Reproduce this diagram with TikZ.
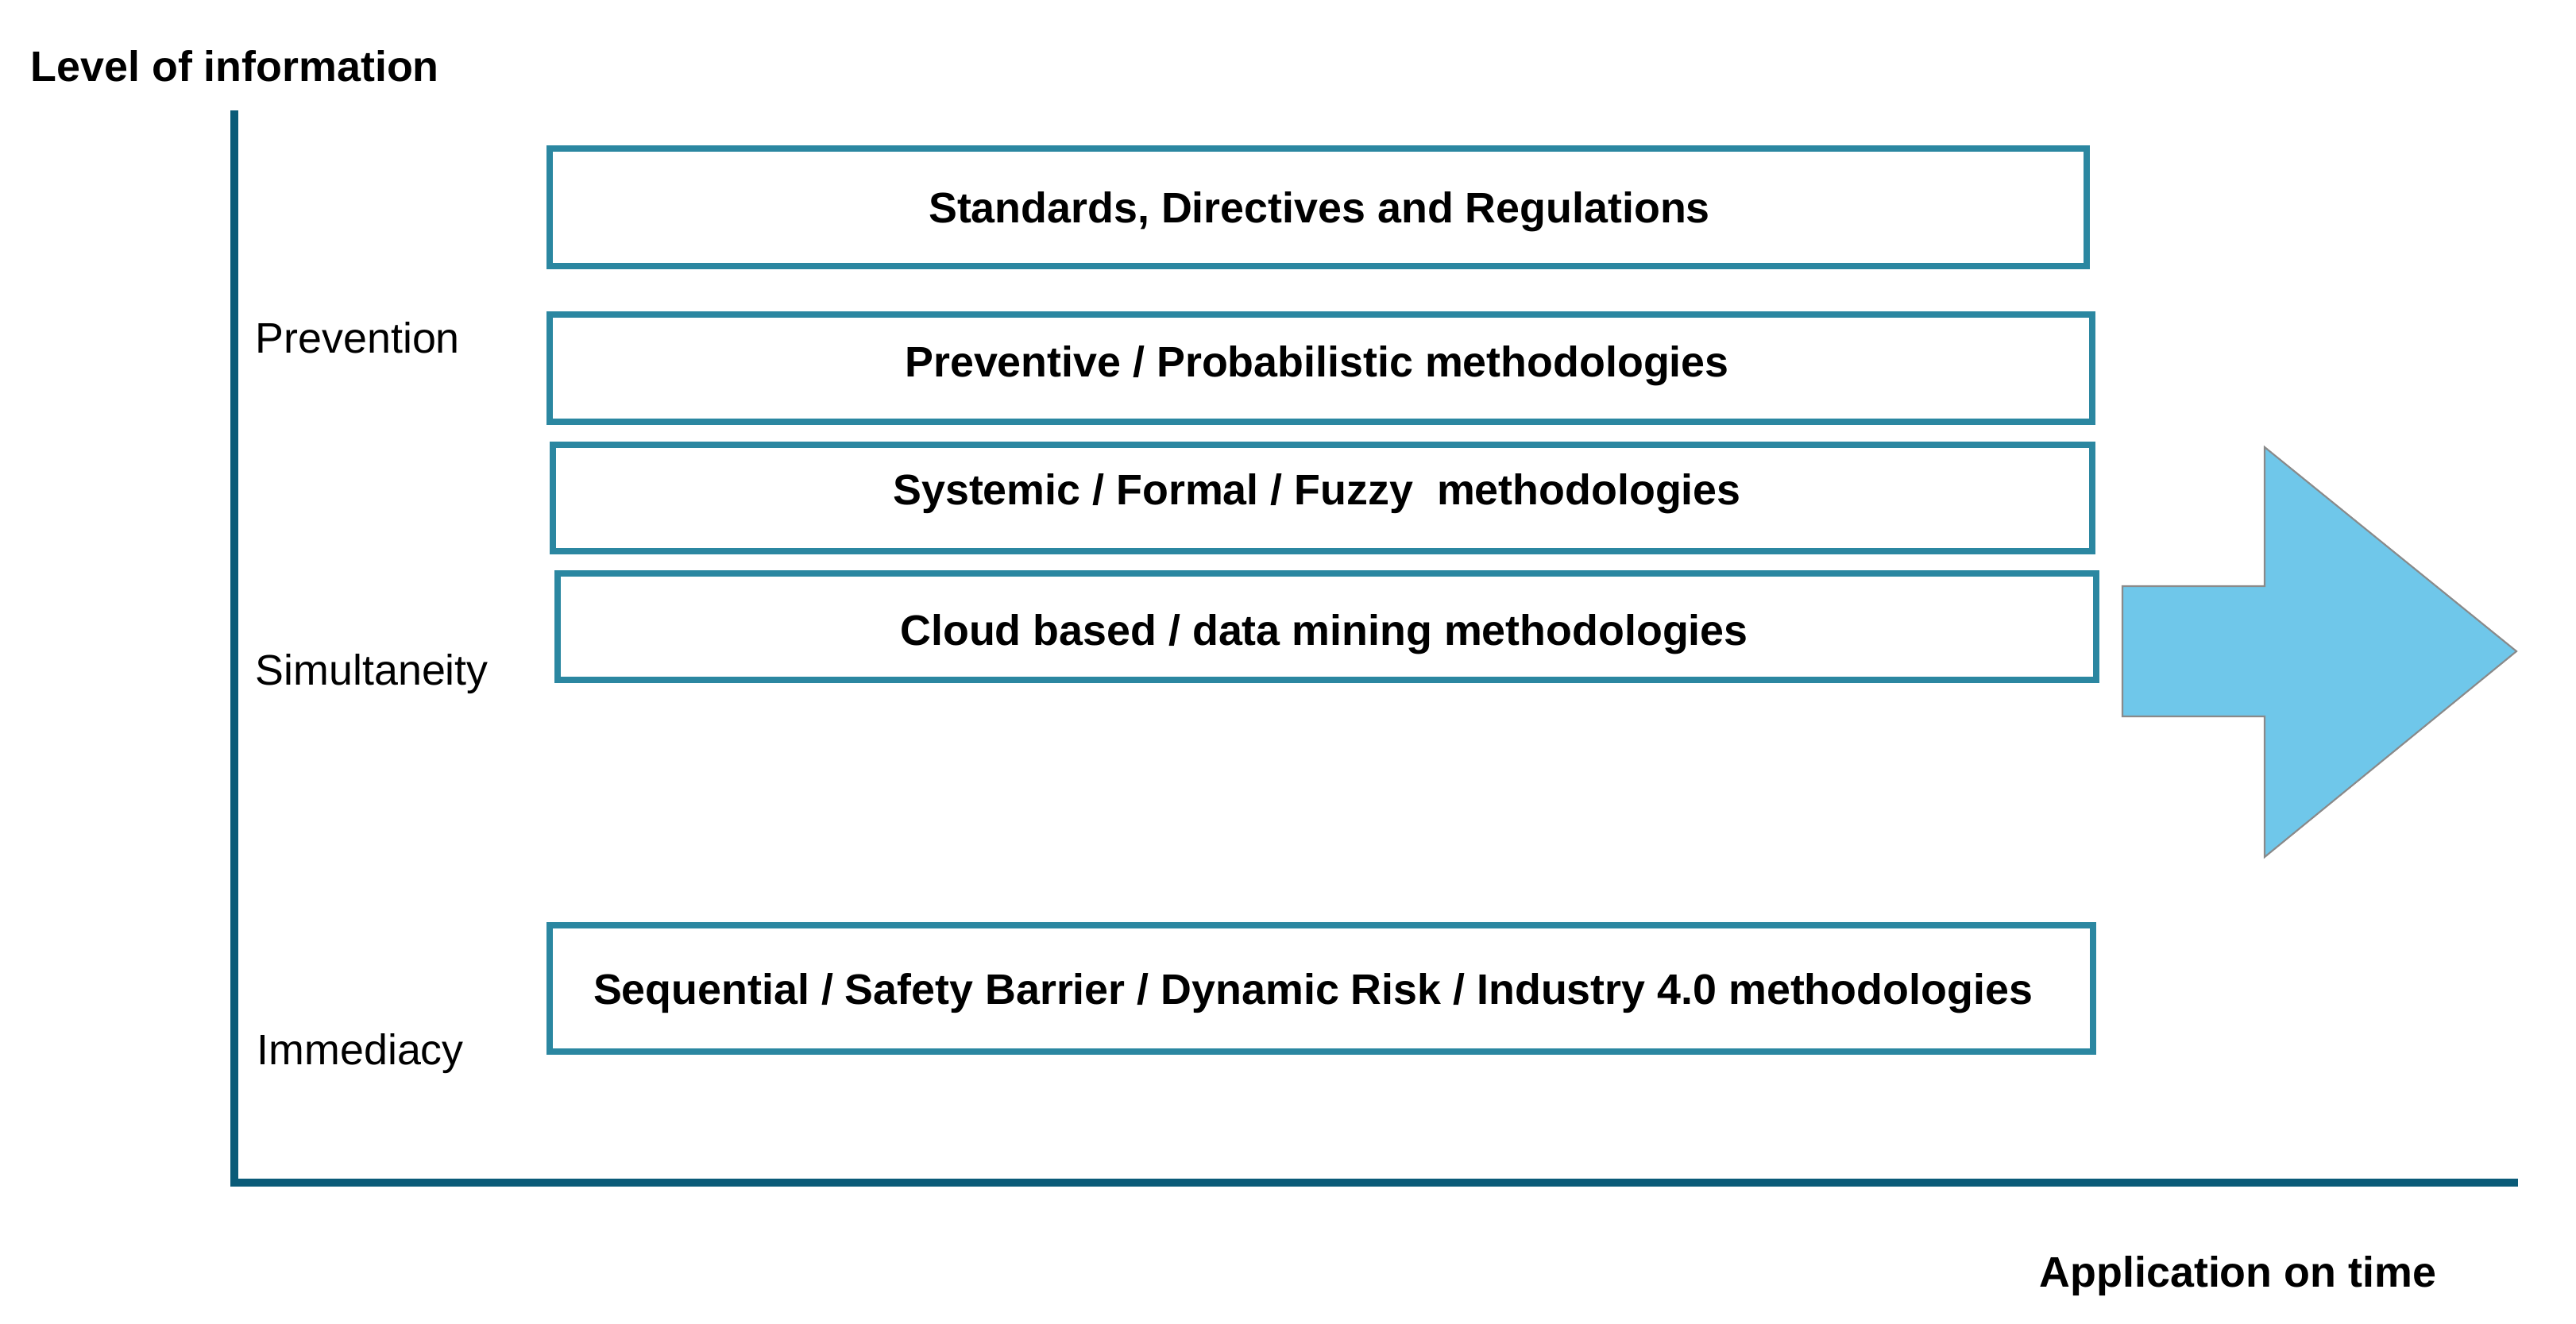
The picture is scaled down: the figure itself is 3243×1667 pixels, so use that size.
\documentclass[tikz,border=0pt]{standalone}
\usepackage{fontspec}
\setmainfont{Liberation Sans}
\definecolor{axiscol}{HTML}{0A5B78}
\definecolor{boxcol}{HTML}{2B87A1}
\definecolor{arrowfill}{HTML}{6FC7EA}
\definecolor{arrowline}{HTML}{8A8A8A}
\begin{document}
\begin{tikzpicture}[x=0.01cm,y=-0.01cm,
  axisline/.style={draw=axiscol,line width=2.9pt},
  methodbox/.style={draw=boxcol,line width=2.3pt,fill=white,inner sep=0pt},
  boxtext/.style={inner sep=0pt,font=\fontsize{15.3pt}{18pt}\selectfont\bfseries},
  levellabel/.style={anchor=base west,inner sep=0pt,font=\fontsize{15.3pt}{18pt}\selectfont},
  axislabel/.style={anchor=base west,inner sep=0pt,font=\fontsize{15.3pt}{18pt}\selectfont\bfseries}]
\useasboundingbox (0,0) rectangle (3243,1667);
% axes
\coordinate (ytop) at (295,139);
\coordinate (origin) at (295,1489);
\coordinate (xend) at (3170,1489);
\draw[axisline] (ytop) -- (origin) -- (xend);
% axis labels
\node[axislabel] (ylab) at (38,103) {Level of information};
\node[axislabel] (xlab) at (2567,1620) {Application on time};
% level labels
\node[levellabel] (prev) at (321,445) {Prevention};
\node[levellabel] (simu) at (321,862) {Simultaneity};
\node[levellabel] (imme) at (323,1340) {Immediacy};
% boxes
\node[methodbox,minimum width=19.33cm,minimum height=1.48cm] (b1) at (1659.5,261) {};
\node[methodbox,minimum width=19.40cm,minimum height=1.35cm] (b2) at (1663,463.5) {};
\node[methodbox,minimum width=19.36cm,minimum height=1.34cm] (b3) at (1665,627) {};
\node[methodbox,minimum width=19.35cm,minimum height=1.34cm] (b4) at (1670.5,789) {};
\node[methodbox,minimum width=19.41cm,minimum height=1.59cm] (b5) at (1663.5,1244.5) {};
\node[boxtext] (t1) at (1661,267) {Standards, Directives and Regulations};
\node[boxtext] (t2) at (1658,461) {Preventive / Probabilistic methodologies};
\node[boxtext] (t3) at (1658,622) {Systemic / Formal / Fuzzy\ \ methodologies};
\node[boxtext] (t4) at (1667,799) {Cloud based / data mining methodologies};
\node[boxtext] (t5) at (1653,1251) {Sequential / Safety Barrier / Dynamic Risk / Industry 4.0 methodologies};
% big arrow
\draw[fill=arrowfill,draw=arrowline,line width=0.6pt]
  (2672,738) -- (2851,738) -- (2851,563) -- (3168,820) -- (2851,1079) -- (2851,902) -- (2672,902) -- cycle;
\end{tikzpicture}
\end{document}
